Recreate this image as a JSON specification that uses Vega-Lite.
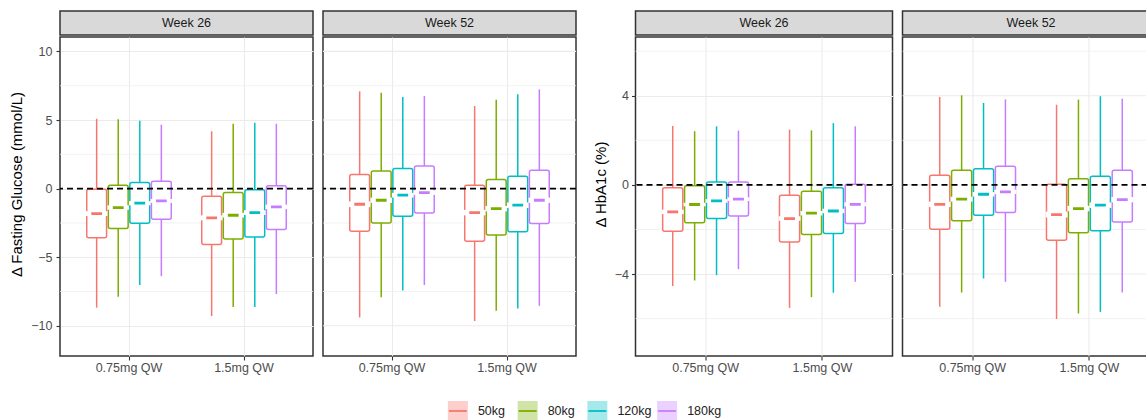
{
  "$schema": "https://vega.github.io/schema/vega-lite/v6.json",
  "padding": {"left": 9, "top": 10, "right": 0, "bottom": 0},
  "config": {
    "font": "Liberation Sans",
    "view": {"stroke": null}
  },
  "datasets": {
    "glucose": [
      {"week": "Week 26", "dose": "0.75mg QW", "weight": "50kg", "lo": -8.68, "q1": -3.59, "nlo": -2.00, "med": -1.82, "nhi": -1.64, "q3": -0.05, "hi": 5.09},
      {"week": "Week 26", "dose": "0.75mg QW", "weight": "80kg", "lo": -7.88, "q1": -2.91, "nlo": -1.54, "med": -1.38, "nhi": -1.22, "q3": 0.25, "hi": 5.05},
      {"week": "Week 26", "dose": "0.75mg QW", "weight": "120kg", "lo": -7.03, "q1": -2.52, "nlo": -1.21, "med": -1.06, "nhi": -0.91, "q3": 0.44, "hi": 4.95},
      {"week": "Week 26", "dose": "0.75mg QW", "weight": "180kg", "lo": -6.38, "q1": -2.23, "nlo": -1.04, "med": -0.90, "nhi": -0.76, "q3": 0.54, "hi": 4.66},
      {"week": "Week 26", "dose": "1.5mg QW", "weight": "50kg", "lo": -9.29, "q1": -4.07, "nlo": -2.31, "med": -2.13, "nhi": -1.95, "q3": -0.55, "hi": 4.18},
      {"week": "Week 26", "dose": "1.5mg QW", "weight": "80kg", "lo": -8.63, "q1": -3.68, "nlo": -2.11, "med": -1.94, "nhi": -1.77, "q3": -0.29, "hi": 4.73},
      {"week": "Week 26", "dose": "1.5mg QW", "weight": "120kg", "lo": -8.63, "q1": -3.52, "nlo": -1.92, "med": -1.75, "nhi": -1.58, "q3": -0.09, "hi": 4.80},
      {"week": "Week 26", "dose": "1.5mg QW", "weight": "180kg", "lo": -7.69, "q1": -2.98, "nlo": -1.49, "med": -1.33, "nhi": -1.17, "q3": 0.20, "hi": 4.73},
      {"week": "Week 52", "dose": "0.75mg QW", "weight": "50kg", "lo": -9.39, "q1": -3.10, "nlo": -1.35, "med": -1.14, "nhi": -0.93, "q3": 1.02, "hi": 7.09},
      {"week": "Week 52", "dose": "0.75mg QW", "weight": "80kg", "lo": -7.91, "q1": -2.50, "nlo": -1.04, "med": -0.85, "nhi": -0.66, "q3": 1.29, "hi": 6.99},
      {"week": "Week 52", "dose": "0.75mg QW", "weight": "120kg", "lo": -7.42, "q1": -2.01, "nlo": -0.65, "med": -0.48, "nhi": -0.31, "q3": 1.46, "hi": 6.67},
      {"week": "Week 52", "dose": "0.75mg QW", "weight": "180kg", "lo": -7.03, "q1": -1.77, "nlo": -0.46, "med": -0.29, "nhi": -0.12, "q3": 1.65, "hi": 6.75},
      {"week": "Week 52", "dose": "1.5mg QW", "weight": "50kg", "lo": -9.65, "q1": -3.83, "nlo": -1.95, "med": -1.75, "nhi": -1.55, "q3": 0.25, "hi": 6.02},
      {"week": "Week 52", "dose": "1.5mg QW", "weight": "80kg", "lo": -8.90, "q1": -3.39, "nlo": -1.66, "med": -1.46, "nhi": -1.26, "q3": 0.66, "hi": 6.48},
      {"week": "Week 52", "dose": "1.5mg QW", "weight": "120kg", "lo": -8.73, "q1": -3.15, "nlo": -1.41, "med": -1.21, "nhi": -1.01, "q3": 0.90, "hi": 6.87},
      {"week": "Week 52", "dose": "1.5mg QW", "weight": "180kg", "lo": -8.54, "q1": -2.55, "nlo": -1.04, "med": -0.85, "nhi": -0.66, "q3": 1.34, "hi": 7.23}
    ],
    "hba1c": [
      {"week": "Week 26", "dose": "0.75mg QW", "weight": "50kg", "lo": -4.54, "q1": -2.08, "nlo": -1.31, "med": -1.21, "nhi": -1.11, "q3": -0.13, "hi": 2.65},
      {"week": "Week 26", "dose": "0.75mg QW", "weight": "80kg", "lo": -4.29, "q1": -1.70, "nlo": -0.96, "med": -0.88, "nhi": -0.80, "q3": -0.04, "hi": 2.41},
      {"week": "Week 26", "dose": "0.75mg QW", "weight": "120kg", "lo": -4.05, "q1": -1.51, "nlo": -0.80, "med": -0.72, "nhi": -0.64, "q3": 0.13, "hi": 2.63},
      {"week": "Week 26", "dose": "0.75mg QW", "weight": "180kg", "lo": -3.78, "q1": -1.40, "nlo": -0.72, "med": -0.64, "nhi": -0.56, "q3": 0.13, "hi": 2.44},
      {"week": "Week 26", "dose": "1.5mg QW", "weight": "50kg", "lo": -5.52, "q1": -2.56, "nlo": -1.61, "med": -1.51, "nhi": -1.41, "q3": -0.46, "hi": 2.48},
      {"week": "Week 26", "dose": "1.5mg QW", "weight": "80kg", "lo": -5.04, "q1": -2.23, "nlo": -1.37, "med": -1.27, "nhi": -1.17, "q3": -0.28, "hi": 2.45},
      {"week": "Week 26", "dose": "1.5mg QW", "weight": "120kg", "lo": -4.84, "q1": -2.18, "nlo": -1.27, "med": -1.17, "nhi": -1.07, "q3": -0.13, "hi": 2.77},
      {"week": "Week 26", "dose": "1.5mg QW", "weight": "180kg", "lo": -4.35, "q1": -1.73, "nlo": -0.96, "med": -0.87, "nhi": -0.78, "q3": 0.03, "hi": 2.63},
      {"week": "Week 52", "dose": "0.75mg QW", "weight": "50kg", "lo": -5.47, "q1": -1.99, "nlo": -0.99, "med": -0.87, "nhi": -0.75, "q3": 0.43, "hi": 3.95},
      {"week": "Week 52", "dose": "0.75mg QW", "weight": "80kg", "lo": -4.83, "q1": -1.61, "nlo": -0.75, "med": -0.64, "nhi": -0.53, "q3": 0.66, "hi": 4.02},
      {"week": "Week 52", "dose": "0.75mg QW", "weight": "120kg", "lo": -4.20, "q1": -1.36, "nlo": -0.52, "med": -0.42, "nhi": -0.32, "q3": 0.73, "hi": 3.68},
      {"week": "Week 52", "dose": "0.75mg QW", "weight": "180kg", "lo": -4.35, "q1": -1.24, "nlo": -0.41, "med": -0.31, "nhi": -0.21, "q3": 0.84, "hi": 3.84},
      {"week": "Week 52", "dose": "1.5mg QW", "weight": "50kg", "lo": -6.02, "q1": -2.48, "nlo": -1.46, "med": -1.33, "nhi": -1.20, "q3": 0.03, "hi": 3.60},
      {"week": "Week 52", "dose": "1.5mg QW", "weight": "80kg", "lo": -5.77, "q1": -2.15, "nlo": -1.18, "med": -1.06, "nhi": -0.94, "q3": 0.28, "hi": 3.83},
      {"week": "Week 52", "dose": "1.5mg QW", "weight": "120kg", "lo": -5.70, "q1": -2.06, "nlo": -1.03, "med": -0.91, "nhi": -0.79, "q3": 0.39, "hi": 3.98},
      {"week": "Week 52", "dose": "1.5mg QW", "weight": "180kg", "lo": -4.83, "q1": -1.66, "nlo": -0.78, "med": -0.66, "nhi": -0.54, "q3": 0.66, "hi": 3.87}
    ],
    "weights": [
      {"weight": "50kg"}, {"weight": "80kg"}, {"weight": "120kg"}, {"weight": "180kg"}
    ]
  },
  "resolve": {"scale": {"xOffset": "independent"}},
  "spacing": 26,
  "vconcat": [
    {
      "resolve": {"scale": {"xOffset": "independent"}},
      "spacing": 13.5,
      "hconcat": [
        {
          "resolve": {"scale": {"xOffset": "independent"}},
          "spacing": 6,
          "hconcat": [
            {
              "resolve": {"scale": {"xOffset": "independent"}},
              "spacing": 0,
              "vconcat": [
                {
                  "width": 253, "height": 24,
                  "view": {"fill": "#d9d9d9", "stroke": "#333333", "strokeWidth": 1.5},
                  "data": {"values": [{"strip": "Week 26"}]},
                  "mark": {"type": "text", "fontSize": 12.5, "color": "#1a1a1a"},
                  "encoding": {"text": {"field": "strip"}}
                },
                {
                  "width": 253, "height": 319,
                  "view": {"stroke": "#333333", "strokeWidth": 1.5},
                  "layer": [
                    {
                      "data": {"values": [{"minor": -7.5}, {"minor": -2.5}, {"minor": 2.5}, {"minor": 7.5}]},
                      "mark": {"type": "rule", "color": "#efefef", "strokeWidth": 0.8},
                      "encoding": {"y": {"field": "minor", "type": "quantitative", "scale": {"domain": [-12.2, 11.05], "nice": false, "zero": false},
                                  "axis": {"title": "Δ Fasting Glucose (mmol/L)", "values": [-10, -5, 0, 5, 10], "grid": true, "gridColor": "#ebebeb", "gridWidth": 1.1, "domain": false, "tickSize": 4, "tickColor": "#333333", "tickWidth": 1.1, "labelFontSize": 12.5, "labelColor": "#4d4d4d", "labelPadding": 4, "titleFontSize": 15, "titleFontWeight": "normal", "titleColor": "#000000", "titlePadding": 6, "titleY": 147}}}
                    },
                    {
                      "data": {"name": "glucose"},
                      "transform": [{"filter": {"field": "week", "equal": "Week 26"}}],
                      "resolve": {"scale": {"xOffset": "independent"}},
                      "encoding": {
                        "x": {"field": "dose", "type": "nominal", "sort": ["0.75mg QW", "1.5mg QW"], "scale": {"paddingInner": 0.25, "paddingOuter": 0.225},
                              "axis": {"title": null, "labelAngle": 0, "labelFontSize": 12.5, "labelColor": "#4d4d4d", "labelPadding": 1.5, "tickSize": 4, "tickColor": "#333333", "tickWidth": 1.1, "domain": false, "grid": true, "gridColor": "#ebebeb", "gridWidth": 1.1}}
                      },
                      "layer": [
                        {
                          "mark": {"type": "rule", "strokeWidth": 1.5},
                          "encoding": {
                            "xOffset": {"field": "weight", "type": "nominal", "sort": ["50kg", "80kg", "120kg", "180kg"], "scale": {"paddingInner": 0, "paddingOuter": 0}},
                            "y": {"field": "lo", "type": "quantitative"},
                            "y2": {"field": "q1"},
                            "color": {"field": "weight", "type": "nominal", "scale": {"domain": ["50kg", "80kg", "120kg", "180kg"], "range": ["#F8766D", "#7CAE00", "#00BFC4", "#C77CFF"]}, "legend": null}
                          }
                        },
                        {
                          "mark": {"type": "rule", "strokeWidth": 1.5},
                          "encoding": {
                            "xOffset": {"field": "weight", "type": "nominal", "sort": ["50kg", "80kg", "120kg", "180kg"], "scale": {"paddingInner": 0, "paddingOuter": 0}},
                            "y": {"field": "q3", "type": "quantitative"},
                            "y2": {"field": "hi"},
                            "color": {"field": "weight", "type": "nominal", "legend": null}
                          }
                        },
                        {
                          "mark": {"type": "bar", "fill": "white", "strokeWidth": 1.5, "cornerRadius": 2},
                          "encoding": {
                            "xOffset": {"field": "weight", "type": "nominal", "sort": ["50kg", "80kg", "120kg", "180kg"], "scale": {"paddingInner": 0.08, "paddingOuter": 0.04}},
                            "y": {"field": "q1", "type": "quantitative"},
                            "y2": {"field": "q3"},
                            "stroke": {"field": "weight", "type": "nominal", "scale": {"domain": ["50kg", "80kg", "120kg", "180kg"], "range": ["#F8766D", "#7CAE00", "#00BFC4", "#C77CFF"]}, "legend": null}
                          }
                        },
                        {
                          "mark": {"type": "bar", "fill": "white"},
                          "encoding": {
                            "xOffset": {"field": "weight", "type": "nominal", "sort": ["50kg", "80kg", "120kg", "180kg"], "scale": {"paddingInner": 0, "paddingOuter": 0}},
                            "y": {"field": "nlo", "type": "quantitative"},
                            "y2": {"field": "nhi"}
                          }
                        },
                        {
                          "mark": {"type": "bar", "fill": "white", "strokeWidth": 2.8},
                          "encoding": {
                            "xOffset": {"field": "weight", "type": "nominal", "sort": ["50kg", "80kg", "120kg", "180kg"], "scale": {"paddingInner": 0.5, "paddingOuter": 0.25}},
                            "y": {"field": "med", "type": "quantitative"},
                            "y2": {"field": "med"},
                            "stroke": {"field": "weight", "type": "nominal", "legend": null}
                          }
                        }
                      ]
                    },
                    {
                      "data": {"values": [{"ref": 0}]},
                      "mark": {"type": "rule", "color": "#000000", "strokeDash": [6, 4], "strokeWidth": 1.6},
                      "encoding": {"y": {"field": "ref", "type": "quantitative"}}
                    }
                  ]
                }
              ]
            },
            {
              "resolve": {"scale": {"xOffset": "independent"}},
              "spacing": 0,
              "vconcat": [
                {
                  "width": 253, "height": 24,
                  "view": {"fill": "#d9d9d9", "stroke": "#333333", "strokeWidth": 1.5},
                  "data": {"values": [{"strip": "Week 52"}]},
                  "mark": {"type": "text", "fontSize": 12.5, "color": "#1a1a1a"},
                  "encoding": {"text": {"field": "strip"}}
                },
                {
                  "width": 253, "height": 319,
                  "view": {"stroke": "#333333", "strokeWidth": 1.5},
                  "layer": [
                    {
                      "data": {"values": [{"minor": -7.5}, {"minor": -2.5}, {"minor": 2.5}, {"minor": 7.5}]},
                      "mark": {"type": "rule", "color": "#efefef", "strokeWidth": 0.8},
                      "encoding": {"y": {"field": "minor", "type": "quantitative", "scale": {"domain": [-12.2, 11.05], "nice": false, "zero": false}, "axis": null}}
                    },
                    {
                      "data": {"values": [{"major": -10}, {"major": -5}, {"major": 0}, {"major": 5}, {"major": 10}]},
                      "mark": {"type": "rule", "color": "#ebebeb", "strokeWidth": 1.1},
                      "encoding": {"y": {"field": "major", "type": "quantitative", "axis": null}}
                    },
                    {
                      "data": {"name": "glucose"},
                      "transform": [{"filter": {"field": "week", "equal": "Week 52"}}],
                      "resolve": {"scale": {"xOffset": "independent"}},
                      "encoding": {
                        "x": {"field": "dose", "type": "nominal", "sort": ["0.75mg QW", "1.5mg QW"], "scale": {"paddingInner": 0.25, "paddingOuter": 0.225},
                              "axis": {"title": null, "labelAngle": 0, "labelFontSize": 12.5, "labelColor": "#4d4d4d", "labelPadding": 1.5, "tickSize": 4, "tickColor": "#333333", "tickWidth": 1.1, "domain": false, "grid": true, "gridColor": "#ebebeb", "gridWidth": 1.1}}
                      },
                      "layer": [
                        {
                          "mark": {"type": "rule", "strokeWidth": 1.5},
                          "encoding": {
                            "xOffset": {"field": "weight", "type": "nominal", "sort": ["50kg", "80kg", "120kg", "180kg"], "scale": {"paddingInner": 0, "paddingOuter": 0}},
                            "y": {"field": "lo", "type": "quantitative", "axis": null},
                            "y2": {"field": "q1"},
                            "color": {"field": "weight", "type": "nominal", "scale": {"domain": ["50kg", "80kg", "120kg", "180kg"], "range": ["#F8766D", "#7CAE00", "#00BFC4", "#C77CFF"]}, "legend": null}
                          }
                        },
                        {
                          "mark": {"type": "rule", "strokeWidth": 1.5},
                          "encoding": {
                            "xOffset": {"field": "weight", "type": "nominal", "sort": ["50kg", "80kg", "120kg", "180kg"], "scale": {"paddingInner": 0, "paddingOuter": 0}},
                            "y": {"field": "q3", "type": "quantitative", "axis": null},
                            "y2": {"field": "hi"},
                            "color": {"field": "weight", "type": "nominal", "legend": null}
                          }
                        },
                        {
                          "mark": {"type": "bar", "fill": "white", "strokeWidth": 1.5, "cornerRadius": 2},
                          "encoding": {
                            "xOffset": {"field": "weight", "type": "nominal", "sort": ["50kg", "80kg", "120kg", "180kg"], "scale": {"paddingInner": 0.08, "paddingOuter": 0.04}},
                            "y": {"field": "q1", "type": "quantitative", "axis": null},
                            "y2": {"field": "q3"},
                            "stroke": {"field": "weight", "type": "nominal", "scale": {"domain": ["50kg", "80kg", "120kg", "180kg"], "range": ["#F8766D", "#7CAE00", "#00BFC4", "#C77CFF"]}, "legend": null}
                          }
                        },
                        {
                          "mark": {"type": "bar", "fill": "white"},
                          "encoding": {
                            "xOffset": {"field": "weight", "type": "nominal", "sort": ["50kg", "80kg", "120kg", "180kg"], "scale": {"paddingInner": 0, "paddingOuter": 0}},
                            "y": {"field": "nlo", "type": "quantitative", "axis": null},
                            "y2": {"field": "nhi"}
                          }
                        },
                        {
                          "mark": {"type": "bar", "fill": "white", "strokeWidth": 2.8},
                          "encoding": {
                            "xOffset": {"field": "weight", "type": "nominal", "sort": ["50kg", "80kg", "120kg", "180kg"], "scale": {"paddingInner": 0.5, "paddingOuter": 0.25}},
                            "y": {"field": "med", "type": "quantitative", "axis": null},
                            "y2": {"field": "med"},
                            "stroke": {"field": "weight", "type": "nominal", "legend": null}
                          }
                        }
                      ]
                    },
                    {
                      "data": {"values": [{"ref": 0}]},
                      "mark": {"type": "rule", "color": "#000000", "strokeDash": [6, 4], "strokeWidth": 1.6},
                      "encoding": {"y": {"field": "ref", "type": "quantitative", "axis": null}}
                    }
                  ]
                }
              ]
            }
          ]
        },
        {
          "resolve": {"scale": {"xOffset": "independent"}},
          "spacing": 6,
          "hconcat": [
            {
              "resolve": {"scale": {"xOffset": "independent"}},
              "spacing": 0,
              "vconcat": [
                {
                  "width": 257, "height": 24,
                  "view": {"fill": "#d9d9d9", "stroke": "#333333", "strokeWidth": 1.5},
                  "data": {"values": [{"strip": "Week 26"}]},
                  "mark": {"type": "text", "fontSize": 12.5, "color": "#1a1a1a"},
                  "encoding": {"text": {"field": "strip"}}
                },
                {
                  "width": 257, "height": 319,
                  "view": {"stroke": "#333333", "strokeWidth": 1.5},
                  "layer": [
                    {
                      "data": {"values": [{"minor": -6}, {"minor": -2}, {"minor": 2}, {"minor": 6}]},
                      "mark": {"type": "rule", "color": "#efefef", "strokeWidth": 0.8},
                      "encoding": {"y": {"field": "minor", "type": "quantitative", "scale": {"domain": [-7.68, 6.64], "nice": false, "zero": false},
                                  "axis": {"title": "Δ HbA1c (%)", "values": [-4, 0, 4], "grid": true, "gridColor": "#ebebeb", "gridWidth": 1.1, "domain": false, "tickSize": 4, "tickColor": "#333333", "tickWidth": 1.1, "labelFontSize": 12.5, "labelColor": "#4d4d4d", "labelPadding": 3, "titleFontSize": 15, "titleFontWeight": "normal", "titleColor": "#000000", "titlePadding": 6, "titleY": 147}}}
                    },
                    {
                      "data": {"name": "hba1c"},
                      "transform": [{"filter": {"field": "week", "equal": "Week 26"}}],
                      "resolve": {"scale": {"xOffset": "independent"}},
                      "encoding": {
                        "x": {"field": "dose", "type": "nominal", "sort": ["0.75mg QW", "1.5mg QW"], "scale": {"paddingInner": 0.25, "paddingOuter": 0.225},
                              "axis": {"title": null, "labelAngle": 0, "labelFontSize": 12.5, "labelColor": "#4d4d4d", "labelPadding": 1.5, "tickSize": 4, "tickColor": "#333333", "tickWidth": 1.1, "domain": false, "grid": true, "gridColor": "#ebebeb", "gridWidth": 1.1}}
                      },
                      "layer": [
                        {
                          "mark": {"type": "rule", "strokeWidth": 1.5},
                          "encoding": {
                            "xOffset": {"field": "weight", "type": "nominal", "sort": ["50kg", "80kg", "120kg", "180kg"], "scale": {"paddingInner": 0, "paddingOuter": 0}},
                            "y": {"field": "lo", "type": "quantitative"},
                            "y2": {"field": "q1"},
                            "color": {"field": "weight", "type": "nominal", "scale": {"domain": ["50kg", "80kg", "120kg", "180kg"], "range": ["#F8766D", "#7CAE00", "#00BFC4", "#C77CFF"]}, "legend": null}
                          }
                        },
                        {
                          "mark": {"type": "rule", "strokeWidth": 1.5},
                          "encoding": {
                            "xOffset": {"field": "weight", "type": "nominal", "sort": ["50kg", "80kg", "120kg", "180kg"], "scale": {"paddingInner": 0, "paddingOuter": 0}},
                            "y": {"field": "q3", "type": "quantitative"},
                            "y2": {"field": "hi"},
                            "color": {"field": "weight", "type": "nominal", "legend": null}
                          }
                        },
                        {
                          "mark": {"type": "bar", "fill": "white", "strokeWidth": 1.5, "cornerRadius": 2},
                          "encoding": {
                            "xOffset": {"field": "weight", "type": "nominal", "sort": ["50kg", "80kg", "120kg", "180kg"], "scale": {"paddingInner": 0.08, "paddingOuter": 0.04}},
                            "y": {"field": "q1", "type": "quantitative"},
                            "y2": {"field": "q3"},
                            "stroke": {"field": "weight", "type": "nominal", "scale": {"domain": ["50kg", "80kg", "120kg", "180kg"], "range": ["#F8766D", "#7CAE00", "#00BFC4", "#C77CFF"]}, "legend": null}
                          }
                        },
                        {
                          "mark": {"type": "bar", "fill": "white"},
                          "encoding": {
                            "xOffset": {"field": "weight", "type": "nominal", "sort": ["50kg", "80kg", "120kg", "180kg"], "scale": {"paddingInner": 0, "paddingOuter": 0}},
                            "y": {"field": "nlo", "type": "quantitative"},
                            "y2": {"field": "nhi"}
                          }
                        },
                        {
                          "mark": {"type": "bar", "fill": "white", "strokeWidth": 2.8},
                          "encoding": {
                            "xOffset": {"field": "weight", "type": "nominal", "sort": ["50kg", "80kg", "120kg", "180kg"], "scale": {"paddingInner": 0.5, "paddingOuter": 0.25}},
                            "y": {"field": "med", "type": "quantitative"},
                            "y2": {"field": "med"},
                            "stroke": {"field": "weight", "type": "nominal", "legend": null}
                          }
                        }
                      ]
                    },
                    {
                      "data": {"values": [{"ref": 0}]},
                      "mark": {"type": "rule", "color": "#000000", "strokeDash": [6, 4], "strokeWidth": 1.6},
                      "encoding": {"y": {"field": "ref", "type": "quantitative"}}
                    }
                  ]
                }
              ]
            },
            {
              "resolve": {"scale": {"xOffset": "independent"}},
              "spacing": 0,
              "vconcat": [
                {
                  "width": 245, "height": 24,
                  "view": {"fill": "#d9d9d9", "stroke": "#333333", "strokeWidth": 1.5},
                  "data": {"values": [{"strip": "Week 52"}]},
                  "mark": {"type": "text", "fontSize": 12.5, "color": "#1a1a1a"},
                  "encoding": {
                    "x": {"field": "strip", "type": "nominal", "axis": null, "scale": {"range": [0, 257], "paddingInner": 0, "paddingOuter": 0}},
                    "text": {"field": "strip"}
                  }
                },
                {
                  "width": 245, "height": 319,
                  "view": {"stroke": "#333333", "strokeWidth": 1.5},
                  "layer": [
                    {
                      "data": {"values": [{"minor": -6}, {"minor": -2}, {"minor": 2}, {"minor": 6}]},
                      "mark": {"type": "rule", "color": "#efefef", "strokeWidth": 0.8},
                      "encoding": {"y": {"field": "minor", "type": "quantitative", "scale": {"domain": [-7.68, 6.64], "nice": false, "zero": false}, "axis": null}}
                    },
                    {
                      "data": {"values": [{"major": -4}, {"major": 0}, {"major": 4}]},
                      "mark": {"type": "rule", "color": "#ebebeb", "strokeWidth": 1.1},
                      "encoding": {"y": {"field": "major", "type": "quantitative", "axis": null}}
                    },
                    {
                      "data": {"name": "hba1c"},
                      "transform": [{"filter": {"field": "week", "equal": "Week 52"}}],
                      "resolve": {"scale": {"xOffset": "independent"}},
                      "encoding": {
                        "x": {"field": "dose", "type": "nominal", "sort": ["0.75mg QW", "1.5mg QW"], "scale": {"range": [0, 257], "paddingInner": 0.25, "paddingOuter": 0.225},
                              "axis": {"title": null, "labelAngle": 0, "labelFontSize": 12.5, "labelColor": "#4d4d4d", "labelPadding": 1.5, "tickSize": 4, "tickColor": "#333333", "tickWidth": 1.1, "domain": false, "grid": true, "gridColor": "#ebebeb", "gridWidth": 1.1}}
                      },
                      "layer": [
                        {
                          "mark": {"type": "rule", "strokeWidth": 1.5},
                          "encoding": {
                            "xOffset": {"field": "weight", "type": "nominal", "sort": ["50kg", "80kg", "120kg", "180kg"], "scale": {"paddingInner": 0, "paddingOuter": 0}},
                            "y": {"field": "lo", "type": "quantitative", "axis": null},
                            "y2": {"field": "q1"},
                            "color": {"field": "weight", "type": "nominal", "scale": {"domain": ["50kg", "80kg", "120kg", "180kg"], "range": ["#F8766D", "#7CAE00", "#00BFC4", "#C77CFF"]}, "legend": null}
                          }
                        },
                        {
                          "mark": {"type": "rule", "strokeWidth": 1.5},
                          "encoding": {
                            "xOffset": {"field": "weight", "type": "nominal", "sort": ["50kg", "80kg", "120kg", "180kg"], "scale": {"paddingInner": 0, "paddingOuter": 0}},
                            "y": {"field": "q3", "type": "quantitative", "axis": null},
                            "y2": {"field": "hi"},
                            "color": {"field": "weight", "type": "nominal", "legend": null}
                          }
                        },
                        {
                          "mark": {"type": "bar", "fill": "white", "strokeWidth": 1.5, "cornerRadius": 2},
                          "encoding": {
                            "xOffset": {"field": "weight", "type": "nominal", "sort": ["50kg", "80kg", "120kg", "180kg"], "scale": {"paddingInner": 0.08, "paddingOuter": 0.04}},
                            "y": {"field": "q1", "type": "quantitative", "axis": null},
                            "y2": {"field": "q3"},
                            "stroke": {"field": "weight", "type": "nominal", "scale": {"domain": ["50kg", "80kg", "120kg", "180kg"], "range": ["#F8766D", "#7CAE00", "#00BFC4", "#C77CFF"]}, "legend": null}
                          }
                        },
                        {
                          "mark": {"type": "bar", "fill": "white"},
                          "encoding": {
                            "xOffset": {"field": "weight", "type": "nominal", "sort": ["50kg", "80kg", "120kg", "180kg"], "scale": {"paddingInner": 0, "paddingOuter": 0}},
                            "y": {"field": "nlo", "type": "quantitative", "axis": null},
                            "y2": {"field": "nhi"}
                          }
                        },
                        {
                          "mark": {"type": "bar", "fill": "white", "strokeWidth": 2.8},
                          "encoding": {
                            "xOffset": {"field": "weight", "type": "nominal", "sort": ["50kg", "80kg", "120kg", "180kg"], "scale": {"paddingInner": 0.5, "paddingOuter": 0.25}},
                            "y": {"field": "med", "type": "quantitative", "axis": null},
                            "y2": {"field": "med"},
                            "stroke": {"field": "weight", "type": "nominal", "legend": null}
                          }
                        }
                      ]
                    },
                    {
                      "data": {"values": [{"ref": 0}]},
                      "mark": {"type": "rule", "color": "#000000", "strokeDash": [6, 4], "strokeWidth": 1.6},
                      "encoding": {"y": {"field": "ref", "type": "quantitative", "axis": null}}
                    }
                  ]
                }
              ]
            }
          ]
        }
      ]
    },
    {
      "width": 1085, "height": 18,
      "data": {"name": "weights"},
      "encoding": {
        "x": {"field": "weight", "type": "nominal", "sort": ["50kg", "80kg", "120kg", "180kg"], "axis": null, "scale": {"range": [363, 642], "paddingInner": 0, "paddingOuter": 0}}
      },
      "layer": [
        {
          "mark": {"type": "square", "size": 400, "opacity": 0.35},
          "encoding": {"color": {"field": "weight", "type": "nominal", "legend": null}}
        },
        {
          "mark": {"type": "point", "shape": "stroke", "size": 324, "strokeWidth": 1.8, "filled": false, "opacity": 1},
          "encoding": {"color": {"field": "weight", "type": "nominal", "legend": null}}
        },
        {
          "mark": {"type": "text", "align": "left", "dx": 20, "fontSize": 12.5, "color": "#222222"},
          "encoding": {"text": {"field": "weight"}}
        }
      ]
    }
  ]
}
